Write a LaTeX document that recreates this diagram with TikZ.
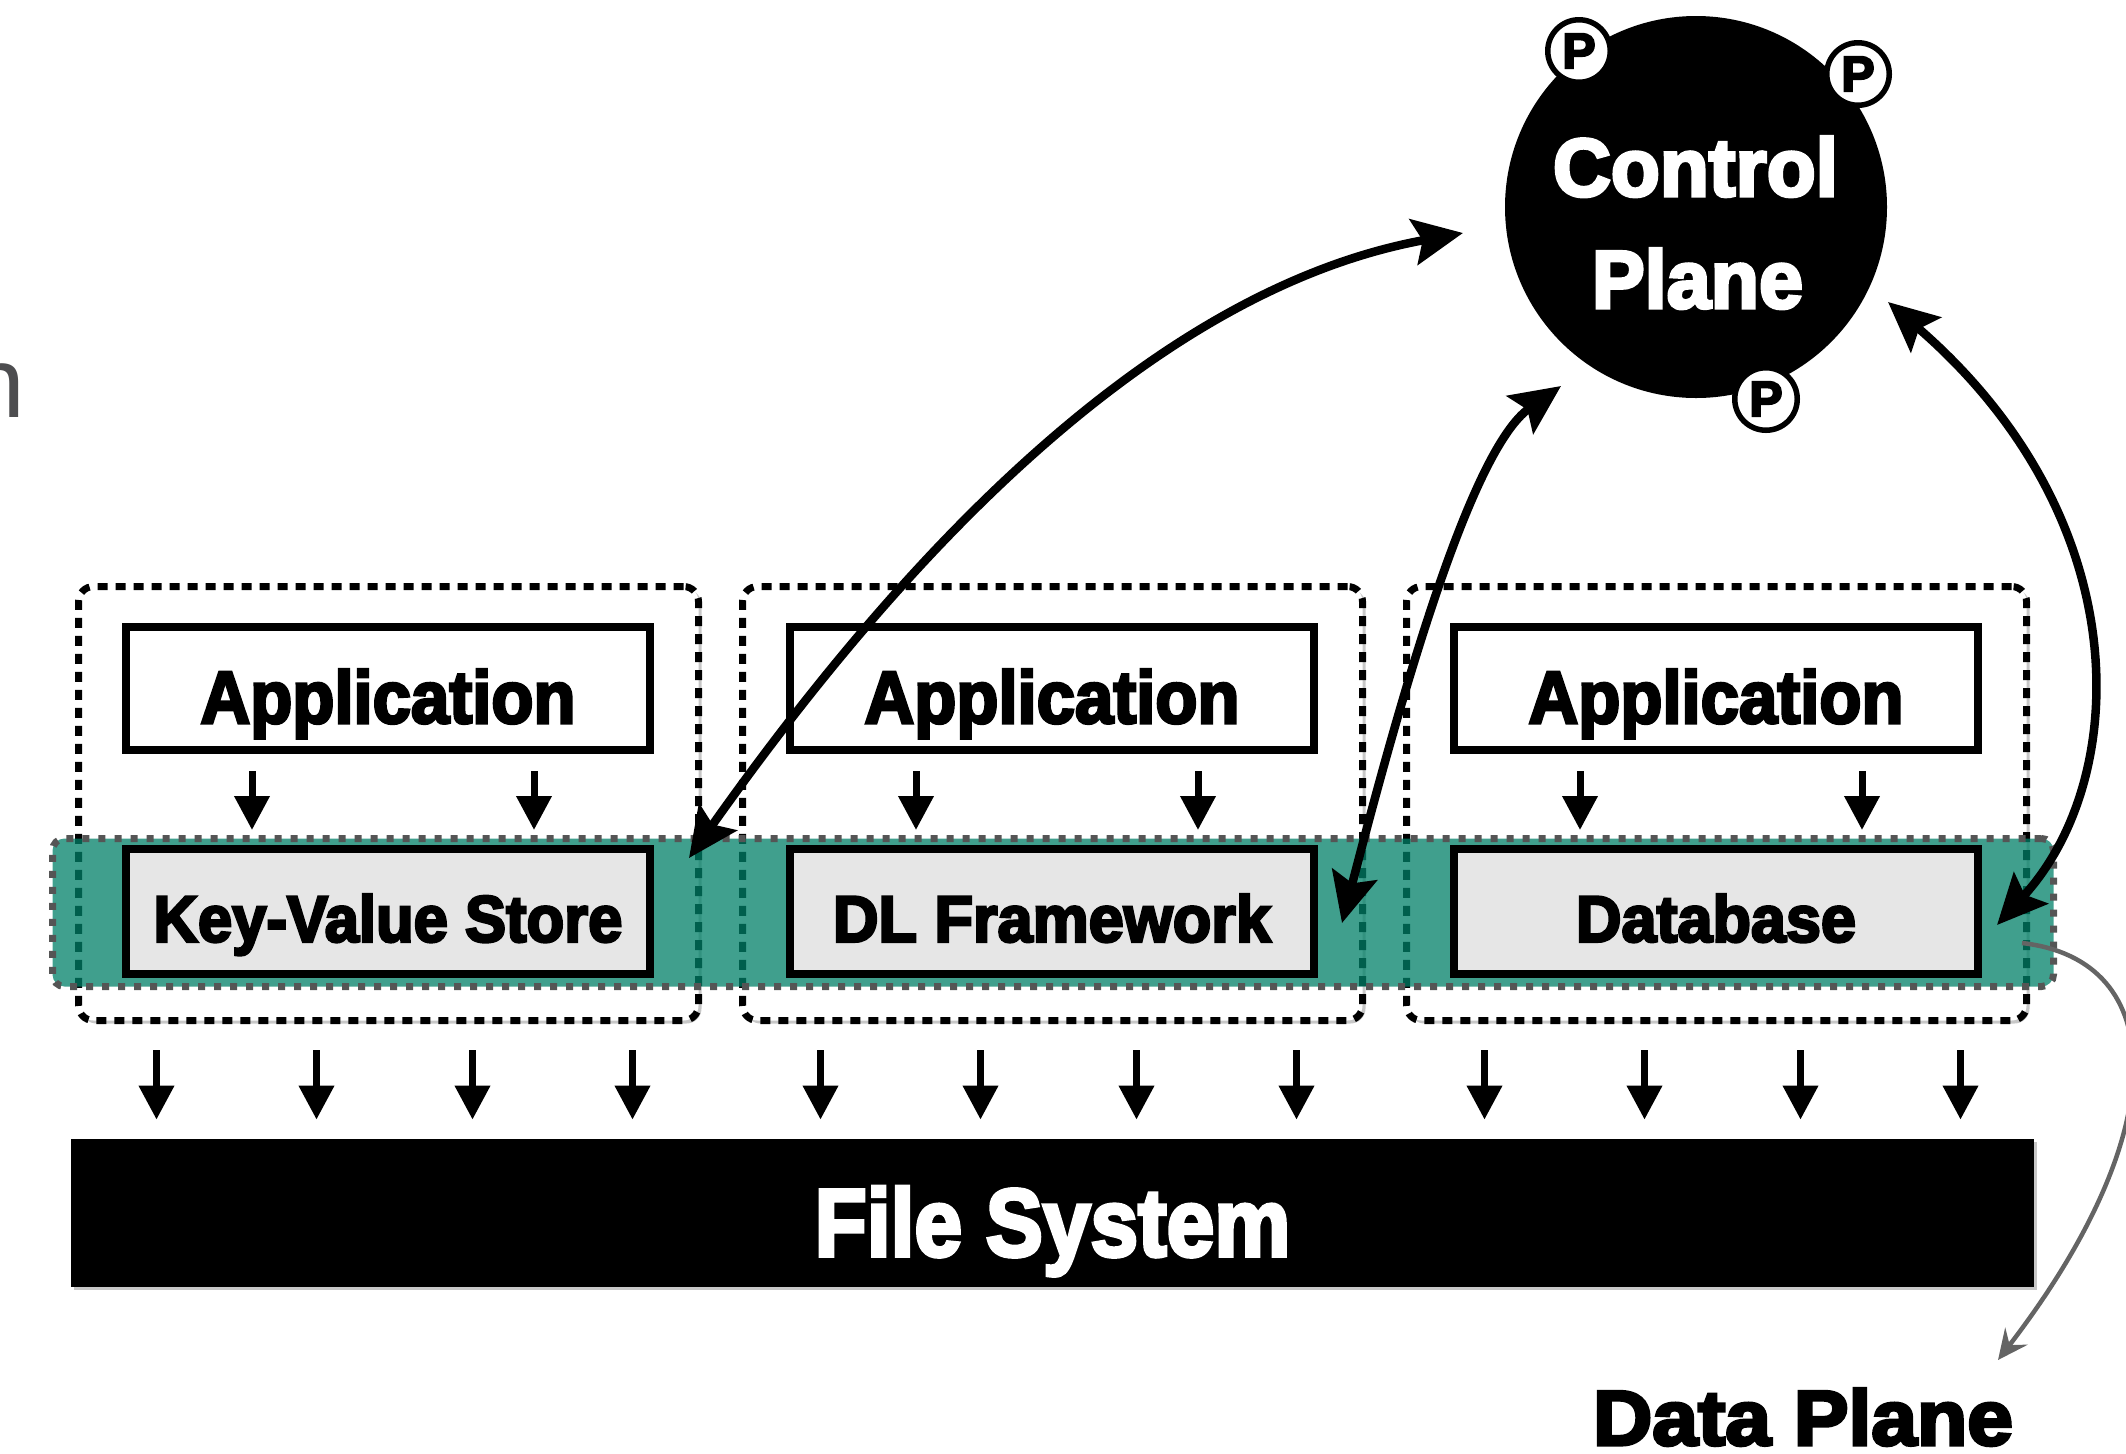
\documentclass[tikz,border=0pt]{standalone}
\usepackage{fontspec}
\usetikzlibrary{arrows.meta,shadows,calc}

\newfontface\heavyfont{Liberation Sans Bold}[FakeBold=4]
\newfontface\thinfont{Liberation Sans}

\definecolor{bandteal}{RGB}{0,128,104}
\definecolor{dotgrey}{RGB}{85,85,85}
\definecolor{boxgrey}{RGB}{230,230,230}
\definecolor{leadgrey}{RGB}{100,100,100}
\definecolor{fragtext}{RGB}{77,77,79}

% scale a text horizontally to a given width
\newlength\fitlen
\newcommand\hfit[2]{\settowidth{\fitlen}{#2}\pgfmathsetmacro\fitscale{#1/\fitlen}\scalebox{\fitscale}[1]{#2}}

\begin{document}
\begin{tikzpicture}[x=0.5pt,y=-0.5pt,
  softshadow/.style={drop shadow={shadow xshift=1.5pt,shadow yshift=-1.5pt,opacity=0.22,fill=black}},
  grpbox/.style={draw=black,line width=3.5pt,dash pattern=on 5pt off 4pt,rounded corners=7.5pt,
    fill=white,minimum width=310pt,minimum height=217pt,inner sep=0pt,softshadow},
  bandbox/.style={draw=dotgrey,draw opacity=1,fill=bandteal,fill opacity=0.75,line width=3.5pt,
    dash pattern=on 3.5pt off 4.5pt,rounded corners=6pt,minimum width=1000.5pt,minimum height=74pt,inner sep=0pt},
  appbox/.style={draw=black,line width=4pt,fill=white,minimum width=262pt,minimum height=61.5pt,
    inner sep=0pt,font={\heavyfont\fontsize{37pt}{44pt}\selectfont},text height=34.5pt,text depth=0pt,softshadow},
  storebox/.style={draw=black,line width=4pt,fill=boxgrey,minimum width=262pt,minimum height=62.5pt,
    inner sep=0pt,font={\heavyfont\fontsize{32.8pt}{40pt}\selectfont},text height=30.2pt,text depth=0pt,softshadow},
  fsbar/.style={fill=black,text=white,minimum width=981.5pt,minimum height=74pt,inner sep=0pt,
    font={\heavyfont\fontsize{48pt}{56pt}\selectfont},text height=43pt,text depth=0pt,softshadow},
  cpcircle/.style={circle,fill=black,minimum size=191pt,inner sep=0pt},
  cptext/.style={text=white,inner sep=0pt,font={\heavyfont\fontsize{41pt}{48pt}\selectfont}},
  pcircle/.style={circle,draw=black,line width=2.75pt,fill=white,minimum size=31.25pt,inner sep=0pt,
    font={\heavyfont\fontsize{25pt}{30pt}\selectfont}},
  dptext/.style={inner sep=0pt,font={\heavyfont\fontsize{39pt}{46pt}\selectfont}},
  smallarrow/.style={line width=3.5pt,-{Triangle[length=17pt,width=17pt]}},
  bigarrow/.style={line width=4.25pt,{Stealth[length=25pt,width=23pt,inset=4.5pt]}-{Stealth[length=25pt,width=23pt,inset=4.5pt]}},
  leader/.style={draw=leadgrey,line width=2.25pt,-{Stealth[length=15pt,width=14pt,inset=5.5pt]}}
]
\useasboundingbox (0,0) rectangle (2126,1453);

% partial caption at the left edge
\node[anchor=base west,inner sep=0pt,text=fragtext,font={\thinfont\fontsize{50pt}{60pt}\selectfont}] (frag) at (-31,417) {n};

% dashed application groups
\node[grpbox] (g1) at (388.5,803.5) {};
\node[grpbox] (g2) at (1052.5,803.5) {};
\node[grpbox] (g3) at (1716.5,803.5) {};

% data plane band
\node[bandbox] (band) at (1053,912.5) {};

% applications and storage engines
\node[appbox] (app1) at (388,688.5) {\hfit{187.5pt}{Application}};
\node[appbox] (app2) at (1052,688.5) {\hfit{187.5pt}{Application}};
\node[appbox] (app3) at (1716,688.5) {\hfit{187.5pt}{Application}};

\node[storebox] (store1) at (388,911.5) {\hfit{234.5pt}{Key-Value Store}};
\node[storebox] (store2) at (1052,911.5) {\hfit{219pt}{DL Framework}};
\node[storebox] (store3) at (1716,911.5) {\hfit{140pt}{Database}};

\foreach \n in {1,2,3} {
  \draw[smallarrow] ([xshift=-68pt,yshift=-8.5pt]app\n.south) -- ([xshift=-68pt,yshift=7.5pt]store\n.north);
  \draw[smallarrow] ([xshift=73pt,yshift=-8.5pt]app\n.south) -- ([xshift=73pt,yshift=7.5pt]store\n.north);
}

% file system
\node[fsbar] (fs) at (1052.5,1213) {\hfit{238pt}{File System}};
\coordinate (fstop) at ([yshift=9.5pt]fs.north);
\foreach \g in {g1,g2,g3} {
  \foreach \dx in {-116,-36,42,122} {
    \coordinate (s) at ([xshift=\dx pt,yshift=-13pt]\g.south);
    \draw[smallarrow] (s) -- (s |- fstop);
  }
}

% control plane
\node[cpcircle] (cp) at (1696,207) {};
\node[cptext,anchor=base] (cpa) at (1695.5,196) {\hfit{142.5pt}{Control}};
\node[cptext,anchor=base] (cpb) at (1697.5,308) {\hfit{105.5pt}{Plane}};
\node[pcircle] (p1) at (1579,51) {P};
\node[pcircle] (p2) at (1858,74) {P};
\node[pcircle] (p3) at (1766,399) {P};

% control connections
\draw[bigarrow] ([shift={(17.5pt,-6.5pt)}]store1.north east)
  .. controls (900,560) and (1150,290) .. ([shift={(-116.5pt,-13pt)}]cp.center);
\draw[bigarrow] ([shift={(12pt,-5.75pt)}]store2.east)
  .. controls (1400,700) and (1470,450) .. ([shift={(-67.5pt,-89.5pt)}]cp.center);
\draw[bigarrow] ([shift={(7.5pt,-6.75pt)}]store3.east)
  .. controls (2130,780) and (2140,520) .. ([shift={(96pt,-47.5pt)}]cp.center);

% data plane label
\node[dptext,anchor=base] (dp) at (1803,1445) {\hfit{210pt}{Data Plane}};
\draw[leader] ([shift={(20pt,-15.75pt)}]store3.east)
  .. controls (2170,960) and (2175,1130) .. ([shift={(97.5pt,42.5pt)}]dp.base);
\end{tikzpicture}
\end{document}
